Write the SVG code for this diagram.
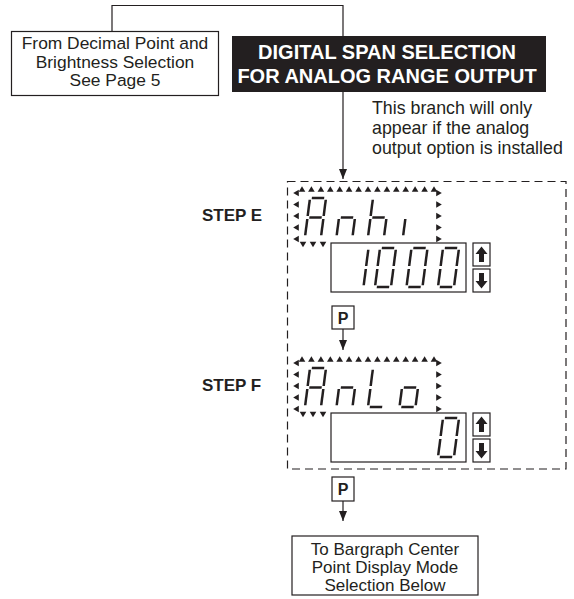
<svg xmlns="http://www.w3.org/2000/svg" xmlns:xlink="http://www.w3.org/1999/xlink" width="574" height="599" viewBox="0 0 574 599">
<style>
.bx{fill:#fff;stroke:#231f20;stroke-width:1.2}
.t{font-family:"Liberation Sans",Arial,sans-serif;fill:#231f20}
.c{text-anchor:middle}
.b{font-weight:bold}
.seg{stroke:#231f20;stroke-width:2.5;fill:none}
.tri{fill:#231f20}
.ln{stroke:#231f20;stroke-width:1.2;fill:none}
</style>
<defs>
<marker id="ah" viewBox="0 0 10 8" refX="10" refY="4" markerWidth="10" markerHeight="8" markerUnits="userSpaceOnUse" orient="auto"><path d="M0,0 L10,4 L0,8 Z" fill="#231f20"/></marker>
<path id="sa" class="seg" d="M1.8,-39 H14.2"/>
<path id="sb" class="seg" d="M16,-37.2 V-21"/>
<path id="sc" class="seg" d="M16,-18 V-1.8"/>
<path id="sd" class="seg" d="M1.8,0 H14.2"/>
<path id="se" class="seg" d="M0,-18 V-1.8"/>
<path id="sf" class="seg" d="M0,-37.2 V-21"/>
<path id="sg" class="seg" d="M1.8,-19.5 H14.2"/>
<path id="tu" class="tri" d="M-3.3,2.8 L3.3,2.8 L0,-2.8 Z"/>
<path id="td" class="tri" d="M-3.3,-2.8 L3.3,-2.8 L0,2.8 Z"/>
<path id="tl" class="tri" d="M2.8,-3.3 L2.8,3.3 L-2.8,0 Z"/>
<path id="tr" class="tri" d="M-2.8,-3.3 L-2.8,3.3 L2.8,0 Z"/>
<g id="frame">
<use href="#tu" x="302" y="189"/><use href="#tu" x="311.4" y="189"/><use href="#tu" x="320.9" y="189"/><use href="#tu" x="330.3" y="189"/><use href="#tu" x="339.7" y="189"/><use href="#tu" x="349.1" y="189"/><use href="#tu" x="358.6" y="189"/><use href="#tu" x="368" y="189"/><use href="#tu" x="377.4" y="189"/><use href="#tu" x="386.9" y="189"/><use href="#tu" x="396.3" y="189"/><use href="#tu" x="405.7" y="189"/><use href="#tu" x="415.1" y="189"/><use href="#tu" x="424.6" y="189"/><use href="#tu" x="434" y="189"/>
<use href="#tl" x="296" y="193"/><use href="#tl" x="296" y="204.5"/><use href="#tl" x="296" y="216"/><use href="#tl" x="296" y="227.5"/><use href="#tl" x="296" y="239"/>
<use href="#tr" x="439" y="193"/><use href="#tr" x="439" y="204.5"/><use href="#tr" x="439" y="216"/><use href="#tr" x="439" y="227.5"/><use href="#tr" x="439" y="239"/>
<use href="#td" x="303" y="244.5"/><use href="#td" x="313" y="244.5"/><use href="#td" x="323" y="244.5"/>
</g>
<g id="updown">
<rect class="bx" x="473" y="243" width="17" height="23"/>
<rect class="bx" x="473" y="269" width="17" height="23"/>
<path class="tri" d="M481.5,246.5 L487.5,254 L484,254 L484,262 L479,262 L479,254 L475.5,254 Z"/>
<path class="tri" d="M481.5,288.5 L487.5,281 L484,281 L484,273 L479,273 L479,281 L475.5,281 Z"/>
</g>
</defs>

<g id="connectors">
<path class="ln" d="M112,31 V5.5 H343 V179" marker-end="url(#ah)"/>
<path class="ln" d="M343,329 V350" marker-end="url(#ah)"/>
<path class="ln" d="M343,501 V521" marker-end="url(#ah)"/>
</g>

<g id="from-box">
<rect class="bx" x="11.5" y="31.5" width="207" height="64"/>
<text class="t c" font-size="17.4" x="115" y="49">From Decimal Point and</text>
<text class="t c" font-size="17.4" x="115" y="67.5">Brightness Selection</text>
<text class="t c" font-size="17.4" x="115" y="86">See Page 5</text>
</g>

<g id="title">
<rect x="232" y="36" width="314" height="56" fill="#231f20"/>
<text class="t c b" font-size="20" x="387" y="59" style="fill:#fff">DIGITAL SPAN SELECTION</text>
<text class="t c b" font-size="20" x="387" y="83" style="fill:#fff">FOR ANALOG RANGE OUTPUT</text>
</g>

<g id="branch-note">
<text class="t" font-size="17.8" x="372" y="114">This branch will only</text>
<text class="t" font-size="17.8" x="372" y="134">appear if the analog</text>
<text class="t" font-size="17.8" x="372" y="154">output option is installed</text>
</g>

<g id="branch-frame">
<rect x="287.5" y="181.5" width="278.5" height="287.5" fill="none" stroke="#231f20" stroke-width="1.2" stroke-dasharray="8 5"/>
</g>

<g id="step-e">
<text class="t b" font-size="17" x="202" y="221">STEP E</text>
<use href="#frame"/>
<g transform="translate(305,237) skewX(-7.3)"><use href="#sa"/><use href="#sb"/><use href="#sc"/><use href="#se"/><use href="#sf"/><use href="#sg"/></g>
<g transform="translate(336.5,237) skewX(-7.3)"><use href="#sc"/><use href="#se"/><use href="#sg"/></g>
<g transform="translate(368,237) skewX(-7.3)"><use href="#sf"/><use href="#se"/><use href="#sg"/><use href="#sc"/></g>
<g transform="translate(403,237) skewX(-7.3)"><use href="#se"/></g>
<rect class="bx" x="331" y="243" width="135" height="49"/>
<g transform="translate(347.5,287) skewX(-7.3)"><use href="#sb"/><use href="#sc"/></g>
<g transform="translate(375,287) skewX(-7.3)"><use href="#sa"/><use href="#sb"/><use href="#sc"/><use href="#sd"/><use href="#se"/><use href="#sf"/></g>
<g transform="translate(406.5,287) skewX(-7.3)"><use href="#sa"/><use href="#sb"/><use href="#sc"/><use href="#sd"/><use href="#se"/><use href="#sf"/></g>
<g transform="translate(438,287) skewX(-7.3)"><use href="#sa"/><use href="#sb"/><use href="#sc"/><use href="#sd"/><use href="#se"/><use href="#sf"/></g>
<use href="#updown"/>
</g>

<g id="p-key-1">
<rect class="bx" x="332" y="306" width="22" height="23"/>
<text class="t c b" font-size="16" x="343" y="323.5">P</text>
</g>

<g id="step-f">
<text class="t b" font-size="17" x="202" y="391">STEP F</text>
<use href="#frame" y="170"/>
<g transform="translate(305,407) skewX(-7.3)"><use href="#sa"/><use href="#sb"/><use href="#sc"/><use href="#se"/><use href="#sf"/><use href="#sg"/></g>
<g transform="translate(336.5,407) skewX(-7.3)"><use href="#sc"/><use href="#se"/><use href="#sg"/></g>
<g transform="translate(368,407) skewX(-7.3)"><use href="#sf"/><use href="#se"/><use href="#sd"/></g>
<g transform="translate(399.5,407) skewX(-7.3)"><use href="#sc"/><use href="#sd"/><use href="#se"/><use href="#sg"/></g>
<rect class="bx" x="331" y="413" width="135" height="49"/>
<g transform="translate(438,457) skewX(-7.3)"><use href="#sa"/><use href="#sb"/><use href="#sc"/><use href="#sd"/><use href="#se"/><use href="#sf"/></g>
<use href="#updown" y="170"/>
</g>

<g id="p-key-2">
<rect class="bx" x="332" y="477" width="22" height="24"/>
<text class="t c b" font-size="16" x="343" y="495">P</text>
</g>

<g id="to-box">
<rect class="bx" x="292" y="536" width="186" height="59"/>
<text class="t c" font-size="17" x="385" y="555">To Bargraph Center</text>
<text class="t c" font-size="17" x="385" y="573">Point Display Mode</text>
<text class="t c" font-size="17" x="385" y="590.5">Selection Below</text>
</g>
</svg>
